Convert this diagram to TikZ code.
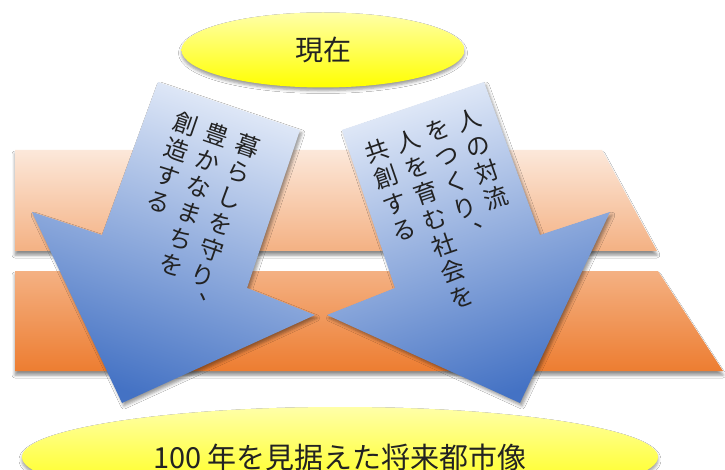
\documentclass[tikz,border=0pt]{standalone}
\usepackage{fontspec}
\newfontfamily\jp{Noto Sans CJK JP}
\usetikzlibrary{shapes.geometric,shadows.blur}
\definecolor{peachlight}{HTML}{FCE8DA}
\definecolor{peachmid}{HTML}{F4B183}
\definecolor{orangedark}{HTML}{ED7D31}
\definecolor{bluelight}{HTML}{E2EAF8}
\definecolor{bluedark}{HTML}{4472C4}
\definecolor{ylight}{HTML}{FFFFA8}
\definecolor{ybright}{HTML}{FFFF00}
\definecolor{textgray}{HTML}{222222}
\begin{document}
\begin{tikzpicture}[x=1pt,y=-1pt,
  every node/.style={inner sep=0pt},
  bandshadow/.style={blur shadow={shadow xshift=0pt, shadow yshift=-4pt, shadow blur radius=3pt, shadow opacity=45}},
  arrowshadow/.style={blur shadow={shadow xshift=2pt, shadow yshift=-3pt, shadow blur radius=3pt, shadow opacity=40}},
  ovalshadow/.style={blur shadow={shadow xshift=0pt, shadow yshift=-3pt, shadow blur radius=3pt, shadow opacity=40}},
  coltext/.style={font=\jp\fontsize{24}{27.6}\selectfont, align=center, anchor=north, transform shape, text=textgray},
  oval/.style={ellipse, text=textgray, ovalshadow}
]
\useasboundingbox (0,0) rectangle (725,470);
\fill[white] (0,0) rectangle (725,470);

% orange bands
\shade[top color=peachlight, bottom color=peachmid, bandshadow]
  (15,150) -- (602,150) -- (657,251) -- (15,251) -- cycle;
\shade[top color=peachmid, bottom color=orangedark, bandshadow]
  (15,271) -- (658,271) -- (723,371) -- (15,371) -- cycle;

% arrows
\shade[top color=bluelight, bottom color=bluedark, shading angle=-19, arrowshadow]
  (158,82) -- (300,130) -- (247,288) -- (315,315) -- (122,403) -- (32,212) -- (102,235) -- cycle;
\shade[top color=bluelight, bottom color=bluedark, shading angle=19, arrowshadow]
  (484,82) -- (342,130) -- (395,288) -- (327,315) -- (520,403) -- (610,212) -- (540,235) -- cycle;

% left arrow text
\begin{scope}[shift={(229,106)}, rotate=-19]
  \node[coltext] (l1) at (31,19) {\rule{0pt}{21pt}暮\\ら\\し\\を\\守\\り\\︑};
  \node[coltext] (l2) at (-2,19) {\rule{0pt}{21pt}豊\\か\\な\\ま\\ち\\を};
  \node[coltext] (l3) at (-35,19) {\rule{0pt}{21pt}創\\造\\す\\る};
\end{scope}

% right arrow text
\begin{scope}[shift={(413,106)}, rotate=19]
  \node[coltext] (r1) at (48.5,19) {\rule{0pt}{21pt}人\\の\\対\\流};
  \node[coltext] (r2) at (16,19) {\rule{0pt}{21pt}を\\つ\\く\\り\\︑};
  \node[coltext] (r3) at (-16.5,19) {\rule{0pt}{21pt}人\\を\\育\\む\\社\\会\\を};
  \node[coltext] (r4) at (-49,19) {\rule{0pt}{21pt}共\\創\\す\\る};
\end{scope}

% ovals
\node[oval, minimum width=283pt, minimum height=75pt, top color=ylight, bottom color=ybright,
  font=\jp\fontsize{28}{28}\selectfont] (now) at (323,50) {現在};
\node[oval, minimum width=636pt, minimum height=100pt, top color=ylight, bottom color=ybright,
  font=\jp\fontsize{29}{29}\selectfont] (future) at (340,457) {100 年を見据えた将来都市像};
\end{tikzpicture}
\end{document}
